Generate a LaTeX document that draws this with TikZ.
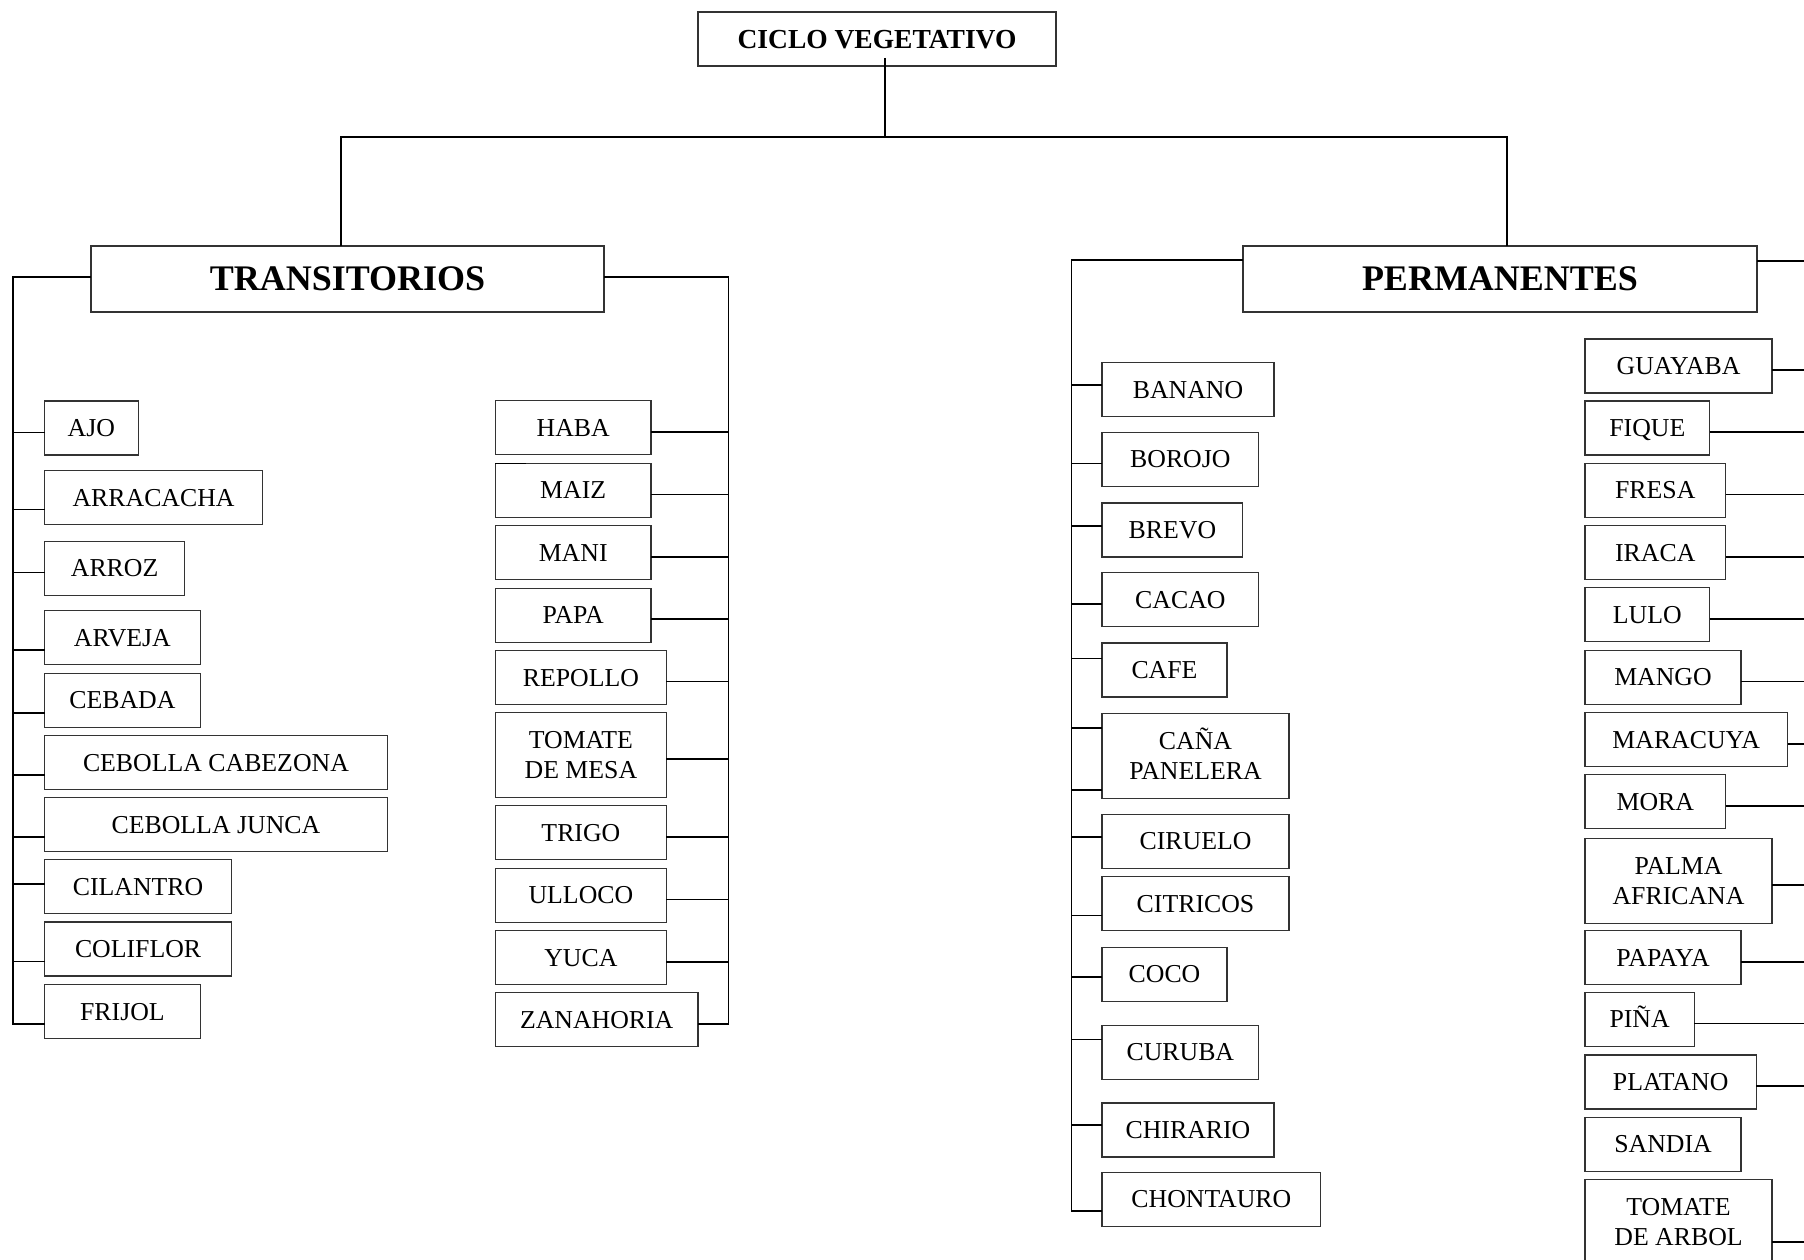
\documentclass[tikz,border=0pt]{standalone}
\usepackage{fontspec}
\setmainfont{Liberation Serif}
\usepackage{tikz}

\begin{document}
\begin{tikzpicture}[x=1pt, y=-1pt,
  crop/.style={draw=black!80, line width=1.1pt, anchor=north west, inner sep=0pt, outer sep=0pt, minimum height=54pt, text height=17pt, text depth=0pt, font=\fontsize{25.8}{30}\selectfont},
  twoline/.style={align=center, minimum height=85pt, text height=47pt, text depth=0pt},
  head/.style={crop, minimum height=66pt, text height=23.8pt, font=\bfseries\fontsize{36}{40}\selectfont},
  link/.style={line width=1.6pt}]
  \clip (0,0) rectangle (1804,1260);

  \node[crop, minimum width=358pt, text height=18.2pt, font=\bfseries\fontsize{27.5}{30}\selectfont] (ciclo) at (698,12) {CICLO VEGETATIVO};
  \node[head, minimum width=513pt] (trans) at (91,246) {TRANSITORIOS};
  \node[head, minimum width=514pt] (perm) at (1243,246) {PERMANENTES};

  \node[crop, minimum width=93.6pt] (ajo) at (44.6,401) {AJO};
  \node[crop, minimum width=218pt] (arracacha) at (44.6,470.6) {ARRACACHA};
  \node[crop, minimum width=140pt] (arroz) at (44.6,541.3) {ARROZ};
  \node[crop, minimum width=155.6pt] (arveja) at (44.6,610.7) {ARVEJA};
  \node[crop, minimum width=155.6pt] (cebada) at (44.6,673.1) {CEBADA};
  \node[crop, minimum width=342.7pt] (cebcab) at (44.6,735.6) {CEBOLLA CABEZONA};
  \node[crop, minimum width=342.7pt] (cebjun) at (44.6,797.6) {CEBOLLA JUNCA};
  \node[crop, minimum width=187pt] (cilantro) at (44.6,859.6) {CILANTRO};
  \node[crop, minimum width=187pt] (coliflor) at (44.6,922) {COLIFLOR};
  \node[crop, minimum width=155.6pt] (frijol) at (44.6,984.5) {FRIJOL};

  \node[crop, minimum width=155.6pt] (haba) at (495.4,400.8) {HABA};
  \node[crop, minimum width=155.6pt] (maiz) at (495.4,463.3) {MAIZ};
  \node[crop, minimum width=155.6pt] (mani) at (495.4,525.7) {MANI};
  \node[crop, minimum width=155.6pt] (papa) at (495.4,588.2) {PAPA};
  \node[crop, minimum width=171pt] (repollo) at (495.4,650.6) {REPOLLO};
  \node[crop, twoline, minimum width=171pt] (tomatem) at (495.4,712.6) {TOMATE\\DE MESA};
  \node[crop, minimum width=171pt] (trigo) at (495.4,805.8) {TRIGO};
  \node[crop, minimum width=171pt] (ulloco) at (495.4,868.3) {ULLOCO};
  \node[crop, minimum width=171pt] (yuca) at (495.4,930.7) {YUCA};
  \node[crop, minimum width=202.6pt] (zanahoria) at (495.4,992.7) {ZANAHORIA};

  \node[crop, minimum width=172pt] (banano) at (1102,362.7) {BANANO};
  \node[crop, minimum width=156.7pt] (borojo) at (1102,432.3) {BOROJO};
  \node[crop, minimum width=140.8pt] (brevo) at (1102,503) {BREVO};
  \node[crop, minimum width=156.7pt] (cacao) at (1102,572.7) {CACAO};
  \node[crop, minimum width=125pt] (cafe) at (1102,643) {CAFE};
  \node[crop, twoline, minimum width=187pt] (cana) at (1102,713.7) {CAÑA\\PANELERA};
  \node[crop, minimum width=187pt] (ciruelo) at (1102,814.3) {CIRUELO};
  \node[crop, minimum width=187pt] (citricos) at (1102,876.7) {CITRICOS};
  \node[crop, minimum width=125pt] (coco) at (1102,947.3) {COCO};
  \node[crop, minimum width=156.7pt] (curuba) at (1102,1025.3) {CURUBA};
  \node[crop, minimum width=172pt] (chirario) at (1102,1103) {CHIRARIO};
  \node[crop, minimum width=218.7pt] (chontauro) at (1102,1172.3) {CHONTAURO};

  \node[crop, minimum width=187pt] (guayaba) at (1585,339) {GUAYABA};
  \node[crop, minimum width=124.6pt] (fique) at (1585,401) {FIQUE};
  \node[crop, minimum width=140.5pt] (fresa) at (1585,463.3) {FRESA};
  \node[crop, minimum width=140.5pt] (iraca) at (1585,525.7) {IRACA};
  \node[crop, minimum width=124.6pt] (lulo) at (1585,587.7) {LULO};
  \node[crop, minimum width=156pt] (mango) at (1585,650.3) {MANGO};
  \node[crop, minimum width=202.5pt] (maracuya) at (1585,712.7) {MARACUYA};
  \node[crop, minimum width=140.5pt] (mora) at (1585,774.7) {MORA};
  \node[crop, twoline, minimum width=187pt] (palma) at (1585,838.3) {PALMA\\AFRICANA};
  \node[crop, minimum width=156pt] (papaya) at (1585,930.7) {PAPAYA};
  \node[crop, minimum width=109.2pt] (pina) at (1585,992.3) {PIÑA};
  \node[crop, minimum width=171.3pt] (platano) at (1585,1055) {PLATANO};
  \node[crop, minimum width=156pt] (sandia) at (1585,1117.3) {SANDIA};
  \node[crop, twoline, minimum width=187pt] (tomatea) at (1585,1179.3) {TOMATE\\DE ARBOL};

  \coordinate (bar) at (885,137);
  \coordinate (tl) at (13,277);
  \coordinate (tr) at (728.5,277);
  \coordinate (pl) at (1071.6,260);
  \coordinate (pr) at (1830,261);

  \draw[link] ([shift={(8pt,8pt)}]ciclo.south) -- (bar);
  \draw[link] ([xshift=-6.5pt]trans.north) |- (bar) -| ([xshift=7pt]perm.north);

  \draw[link] ([yshift=2pt]trans.west) -- (tl) |- ([yshift=-12.4pt]frijol.west)
    ([yshift=-4.6pt]ajo.west) -- +(-31.6pt,0)
    ([yshift=-11.9pt]arracacha.west) -- +(-31.6pt,0)
    ([yshift=-4.1pt]arroz.west) -- +(-31.6pt,0)
    ([yshift=-12.4pt]arveja.west) -- +(-31.6pt,0)
    ([yshift=-12.8pt]cebada.west) -- +(-31.6pt,0)
    ([yshift=-12.6pt]cebcab.west) -- +(-31.6pt,0)
    ([yshift=-12.4pt]cebjun.west) -- +(-31.6pt,0)
    ([yshift=2.8pt]cilantro.west) -- +(-31.6pt,0)
    ([yshift=-12.4pt]coliflor.west) -- +(-31.6pt,0);

  \draw[link] ([yshift=2pt]trans.east) -- (tr) |- ([yshift=-4pt]zanahoria.east)
    ([yshift=-4pt]haba.east) -- ([yshift=-4pt]tr |- haba.east)
    ([yshift=-4pt]maiz.east) -- ([yshift=-4pt]tr |- maiz.east)
    ([yshift=-4pt]mani.east) -- ([yshift=-4pt]tr |- mani.east)
    ([yshift=-4pt]papa.east) -- ([yshift=-4pt]tr |- papa.east)
    ([yshift=-4pt]repollo.east) -- ([yshift=-4pt]tr |- repollo.east)
    ([yshift=-4pt]tomatem.east) -- ([yshift=-4pt]tr |- tomatem.east)
    ([yshift=-4pt]trigo.east) -- ([yshift=-4pt]tr |- trigo.east)
    ([yshift=-4pt]ulloco.east) -- ([yshift=-4pt]tr |- ulloco.east)
    ([yshift=-4pt]yuca.east) -- ([yshift=-4pt]tr |- yuca.east);
  \draw[link] (maiz.north west) -- +(31pt,0);

  \draw[link] ([yshift=19pt]perm.west) -- (pl) |- ([yshift=-11.7pt]chontauro.west)
    ([yshift=4.7pt]banano.west) -- +(-30.4pt,0)
    ([yshift=-4.3pt]borojo.west) -- +(-30.4pt,0)
    ([yshift=3.8pt]brevo.west) -- +(-30.4pt,0)
    ([yshift=-4pt]cacao.west) -- +(-30.4pt,0)
    ([yshift=11.7pt]cafe.west) -- +(-30.4pt,0)
    ([yshift=28.5pt]cana.west) -- +(-30.4pt,0)
    ([yshift=-33.8pt]cana.west) -- +(-30.4pt,0)
    ([yshift=4.5pt]ciruelo.west) -- +(-30.4pt,0)
    ([yshift=-11.7pt]citricos.west) -- +(-30.4pt,0)
    ([yshift=-2.7pt]coco.west) -- +(-30.4pt,0)
    ([yshift=12.7pt]curuba.west) -- +(-30.4pt,0)
    ([yshift=4.8pt]chirario.west) -- +(-30.4pt,0);

  \draw[link] ([yshift=18pt]perm.east) -- (pr) |- ([yshift=-20pt]tomatea.east)
    ([yshift=-4pt]guayaba.east) -- ([yshift=-4pt]pr |- guayaba.east)
    ([yshift=-4pt]fique.east) -- ([yshift=-4pt]pr |- fique.east)
    ([yshift=-4pt]fresa.east) -- ([yshift=-4pt]pr |- fresa.east)
    ([yshift=-4pt]iraca.east) -- ([yshift=-4pt]pr |- iraca.east)
    ([yshift=-4pt]lulo.east) -- ([yshift=-4pt]pr |- lulo.east)
    ([yshift=-4pt]mango.east) -- ([yshift=-4pt]pr |- mango.east)
    ([yshift=-4pt]maracuya.east) -- ([yshift=-4pt]pr |- maracuya.east)
    ([yshift=-4pt]mora.east) -- ([yshift=-4pt]pr |- mora.east)
    ([yshift=-4pt]palma.east) -- ([yshift=-4pt]pr |- palma.east)
    ([yshift=-4pt]papaya.east) -- ([yshift=-4pt]pr |- papaya.east)
    ([yshift=-4pt]pina.east) -- ([yshift=-4pt]pr |- pina.east)
    ([yshift=-4pt]platano.east) -- ([yshift=-4pt]pr |- platano.east);
\end{tikzpicture}
\end{document}
